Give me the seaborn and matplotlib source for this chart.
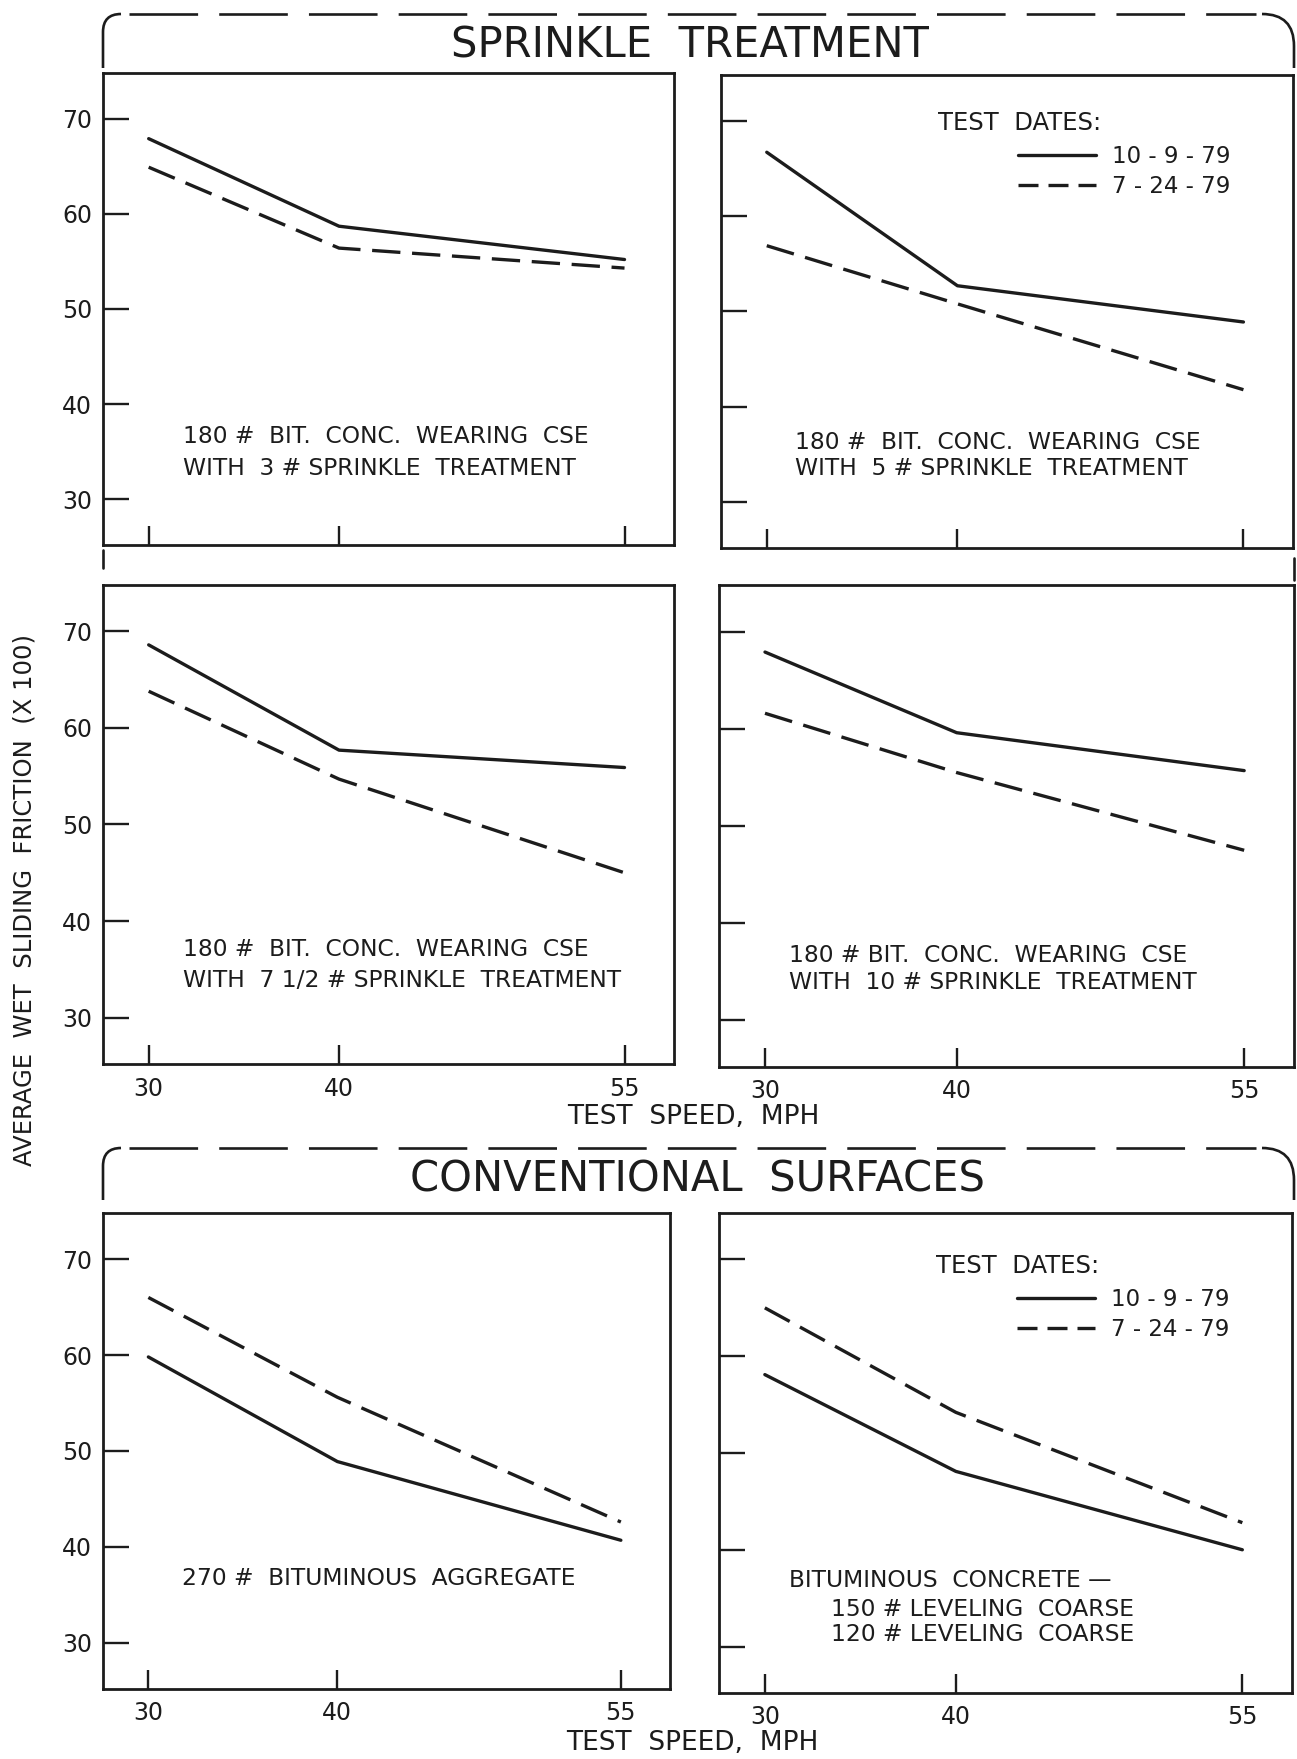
import pandas as pd
import matplotlib.pyplot as plt
import seaborn as sns
from matplotlib.lines import Line2D
from matplotlib.path import Path
from matplotlib.patches import PathPatch

sns.set_theme(style="white")
plt.rcParams['font.family'] = ['DejaVu Sans']

INK = '#1c1c1c'
W, H = 1297, 1759

# --- data ---
speeds = [30, 40, 55]
dates = ['10 - 9 - 79', '7 - 24 - 79']
yticks = [30, 40, 50, 60, 70]

# (10-9-79, 7-24-79) friction x 100 at 30/40/55 mph
sprinkle_3 = ([67.9, 58.7, 55.2], [64.9, 56.4, 54.3])
sprinkle_5 = ([66.7, 52.7, 48.9], [56.9, 50.8, 41.8])
sprinkle_7h = ([68.6, 57.7, 55.9], [63.8, 54.7, 45.0])
sprinkle_10 = ([67.9, 59.6, 55.7], [61.6, 55.5, 47.5])
bit_aggregate = ([59.8, 48.9, 40.7], [66.0, 55.6, 42.6])
bit_concrete = ([58.1, 48.1, 40.0], [65.0, 54.2, 42.8])

notes_3 = ['180 #  BIT.  CONC.  WEARING  CSE', 'WITH  3 # SPRINKLE  TREATMENT']
notes_5 = ['180 #  BIT.  CONC.  WEARING  CSE', 'WITH  5 # SPRINKLE  TREATMENT']
notes_7h = ['180 #  BIT.  CONC.  WEARING  CSE', 'WITH  7 1/2 # SPRINKLE  TREATMENT']
notes_10 = ['180 # BIT.  CONC.  WEARING  CSE', 'WITH  10 # SPRINKLE  TREATMENT']
notes_agg = ['270 #  BITUMINOUS  AGGREGATE']
notes_conc = ['BITUMINOUS  CONCRETE —', '150 # LEVELING  COARSE', '120 # LEVELING  COARSE']


def px_rect(left, top, right, bottom):
    return [left / W, 1 - bottom / H, (right - left) / W, (bottom - top) / H]


def frame(values):
    rows = []
    for date, vals in zip(dates, values):
        for s, v in zip(speeds, vals):
            rows.append({'speed': s, 'friction': v, 'date': date})
    return pd.DataFrame(rows)


panels = [
    # values, notes, (x, y list), rect, xlabels, ylabels, legend
    (sprinkle_3, notes_3, [(0.14, 0.229), (0.14, 0.163)], px_rect(103, 73, 674, 545), False, True, None),
    (sprinkle_5, notes_5, [(0.13, 0.222), (0.13, 0.168)], px_rect(721, 75, 1293, 548), False, False, (0.899, 0.796)),
    (sprinkle_7h, notes_7h, [(0.14, 0.238), (0.14, 0.175)], px_rect(103, 585, 674, 1064), True, True, None),
    (sprinkle_10, notes_10, [(0.122, 0.232), (0.122, 0.176)], px_rect(719, 585, 1294, 1067), True, False, None),
    (bit_aggregate, notes_agg, [(0.14, 0.233)], px_rect(103, 1213, 670, 1689), True, True, None),
    (bit_concrete, notes_conc, [(0.122, 0.235), (0.195, 0.173), (0.195, 0.121)],
     px_rect(719, 1213, 1292, 1693), True, False, (0.89, 0.789)),
]

fig = plt.figure(figsize=(W / 100, H / 100), dpi=100)

for values, notes, note_pos, rect, xlab, ylab, legend in panels:
    ax = fig.add_axes(rect)
    sns.lineplot(data=frame(values), x='speed', y='friction', style='date', style_order=dates,
                 dashes={dates[0]: '', dates[1]: (8.5, 3.5)}, color=INK, lw=2.4,
                 legend=False, ax=ax)
    ax.set_xlim(27.6, 57.6)
    ax.set_ylim(25.2, 74.8)
    ax.set_xticks(speeds)
    ax.set_yticks(yticks)
    ax.set_xlabel('')
    ax.set_ylabel('')
    ax.tick_params(axis='y', direction='in', left=True, length=19, width=1.7, pad=8,
                   labelsize=17, colors=INK, labelleft=ylab)
    ax.tick_params(axis='x', direction='in', bottom=True, length=14, width=1.7, pad=9,
                   labelsize=17, colors=INK, labelbottom=xlab)
    for sp in ax.spines.values():
        sp.set_color(INK)
        sp.set_linewidth(2.0)
    for line, (tx, ty) in zip(notes, note_pos):
        ax.text(tx, ty, line, transform=ax.transAxes, fontsize=16.8, color=INK,
                ha='left', va='center')
    if legend is not None:
        title_y, leg_y = legend
        ax.text(0.379, title_y, 'TEST  DATES:', transform=ax.transAxes, fontsize=17.5,
                color=INK, ha='left', va='center')
        handles = [Line2D([], [], color=INK, lw=2.4),
                   Line2D([], [], color=INK, lw=2.4, dashes=(6, 3))]
        ax.legend(handles, dates, loc='center left', bbox_to_anchor=(0.52, leg_y),
                  frameon=False, fontsize=16.5, handlelength=3.4, handletextpad=0.7,
                  labelspacing=0.3, borderpad=0, borderaxespad=0, labelcolor=INK)


# --- section brackets ---
def fig_pt(x, y):
    return (x / W, 1 - y / H)


def bracket(top, side_end, r_left, r_right):
    left = Path([fig_pt(103, side_end), fig_pt(103, top + r_left), fig_pt(103, top),
                 fig_pt(103 + r_left, top)],
                [Path.MOVETO, Path.LINETO, Path.CURVE3, Path.CURVE3])
    right = Path([fig_pt(1294 - r_right, top), fig_pt(1294, top), fig_pt(1294, top + r_right),
                  fig_pt(1294, side_end)],
                 [Path.MOVETO, Path.CURVE3, Path.CURVE3, Path.LINETO])
    for p in (left, right):
        fig.add_artist(PathPatch(p, fill=False, edgecolor=INK, lw=1.9, transform=fig.transFigure))
    x0, y0 = fig_pt(103 + r_left + 8, top)
    x1, _ = fig_pt(1294 - r_right - 6, top)
    fig.add_artist(Line2D([x0, x1], [y0, y0], color=INK, lw=1.9, dashes=(26, 8),
                          transform=fig.transFigure))


bracket(14, 68, 18, 32)
bracket(1148, 1200, 18, 32)

for x, y0, y1 in [(103, 550, 568), (1294, 558, 580)]:
    a, b = fig_pt(x, y0)
    _, c = fig_pt(x, y1)
    fig.add_artist(Line2D([a, a], [b, c], color=INK, lw=1.9, transform=fig.transFigure))

fig.text(0.532, 1 - 45 / H, 'SPRINKLE  TREATMENT', fontsize=30, color=INK, ha='center', va='center')
fig.text(0.538, 1 - 1179 / H, 'CONVENTIONAL  SURFACES', fontsize=30, color=INK, ha='center', va='center')

fig.text(693 / W, 1 - 1117 / H, 'TEST  SPEED,  MPH', fontsize=19, color=INK, ha='center', va='center')
fig.text(692 / W, 1 - 1743 / H, 'TEST  SPEED,  MPH', fontsize=19, color=INK, ha='center', va='center')
fig.text(25 / W, 1 - 900 / H, 'AVERAGE  WET  SLIDING  FRICTION  (X 100)', fontsize=17.5, color=INK,
         rotation=90, ha='center', va='center')

fig.savefig('out.png', dpi=100, facecolor='white')
